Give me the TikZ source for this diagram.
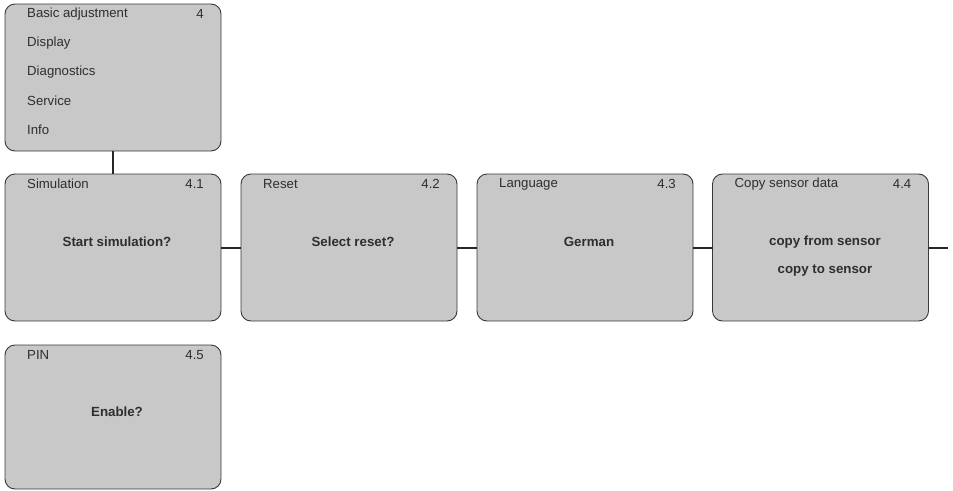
\documentclass[tikz,border=0pt]{standalone}
\usepackage{fontspec}
\setmainfont{Liberation Sans}
\definecolor{boxfill}{HTML}{C8C8C8}
\definecolor{boxline}{HTML}{383838}
\definecolor{txt}{HTML}{2E2E2E}
\begin{document}
\begin{tikzpicture}[x=1pt,y=-1pt,
  menubox/.style={draw=boxline,line width=0.9pt,fill=boxfill,rounded corners=10pt,
    minimum width=216pt,minimum height=147pt,inner sep=0pt,outer sep=0pt},
  hdr/.style={font=\fontsize{13.2}{15}\selectfont,text=txt,inner sep=0pt,anchor=west},
  num/.style={font=\fontsize{13.2}{15}\selectfont,text=txt,inner sep=0pt,anchor=east},
  body/.style={font=\fontsize{13.3}{15}\selectfont\bfseries,text=txt,inner sep=0pt},
  link/.style={draw=black!85,line width=2pt}]
\useasboundingbox (0,0) rectangle (953,490);

% top menu box
\node[menubox] (top) at (113,77.5) {};
\node[hdr] (t1) at (27,14) {Basic adjustment};
\node[num] (t1n) at (204,14) {4};
\node[hdr] (t2) at (27,43) {Display};
\node[hdr] (t3) at (27,72) {Diagnostics};
\node[hdr] (t4) at (27,101) {Service};
\node[hdr] (t5) at (27,129.5) {Info};

% row of boxes
\node[menubox] (sim) at (113,247.5) {};
\node[menubox] (res) at (349,247.5) {};
\node[menubox] (lang) at (585,247.5) {};
\node[menubox] (copy) at (820.5,247.5) {};
\node[menubox,minimum height=144pt] (pin) at (113,417) {};

\node[hdr] (simh) at ([xshift=22pt,yshift=-10pt]sim.north west) {Simulation};
\node[num] (simn) at ([xshift=-17pt,yshift=-10pt]sim.north east) {4.1};
\node[body] (simb) at ([xshift=4pt,yshift=5.5pt]sim.center) {Start simulation?};

\node[hdr] (resh) at ([xshift=22pt,yshift=-10pt]res.north west) {Reset};
\node[num] (resn) at ([xshift=-17pt,yshift=-10pt]res.north east) {4.2};
\node[body] (resb) at ([xshift=4pt,yshift=5.5pt]res.center) {Select reset?};

\node[hdr] (langh) at ([xshift=22pt,yshift=-10pt]lang.north west) {Language};
\node[num] (langn) at ([xshift=-17pt,yshift=-10pt]lang.north east) {4.3};
\node[body] (langb) at ([xshift=4pt,yshift=5.5pt]lang.center) {German};

\node[hdr] (copyh) at ([xshift=22pt,yshift=-10pt]copy.north west) {Copy sensor data};
\node[num] (copyn) at ([xshift=-17pt,yshift=-10pt]copy.north east) {4.4};
\node[body] (copyb1) at (825,242) {copy from sensor};
\node[body] (copyb2) at (825,271) {copy to sensor};

\node[hdr] (pinh) at ([xshift=22pt,yshift=-10pt]pin.north west) {PIN};
\node[num] (pinn) at ([xshift=-17pt,yshift=-10pt]pin.north east) {4.5};
\node[body] (pinb) at (117,412) {Enable?};

% connectors
\coordinate (endr) at (948,247.5);
\draw[link] (top.south) -- (sim.north);
\draw[link] (sim.east) -- (res.west);
\draw[link] (res.east) -- (lang.west);
\draw[link] (lang.east) -- (copy.west);
\draw[link] (copy.east) -- (endr);
\end{tikzpicture}
\end{document}
